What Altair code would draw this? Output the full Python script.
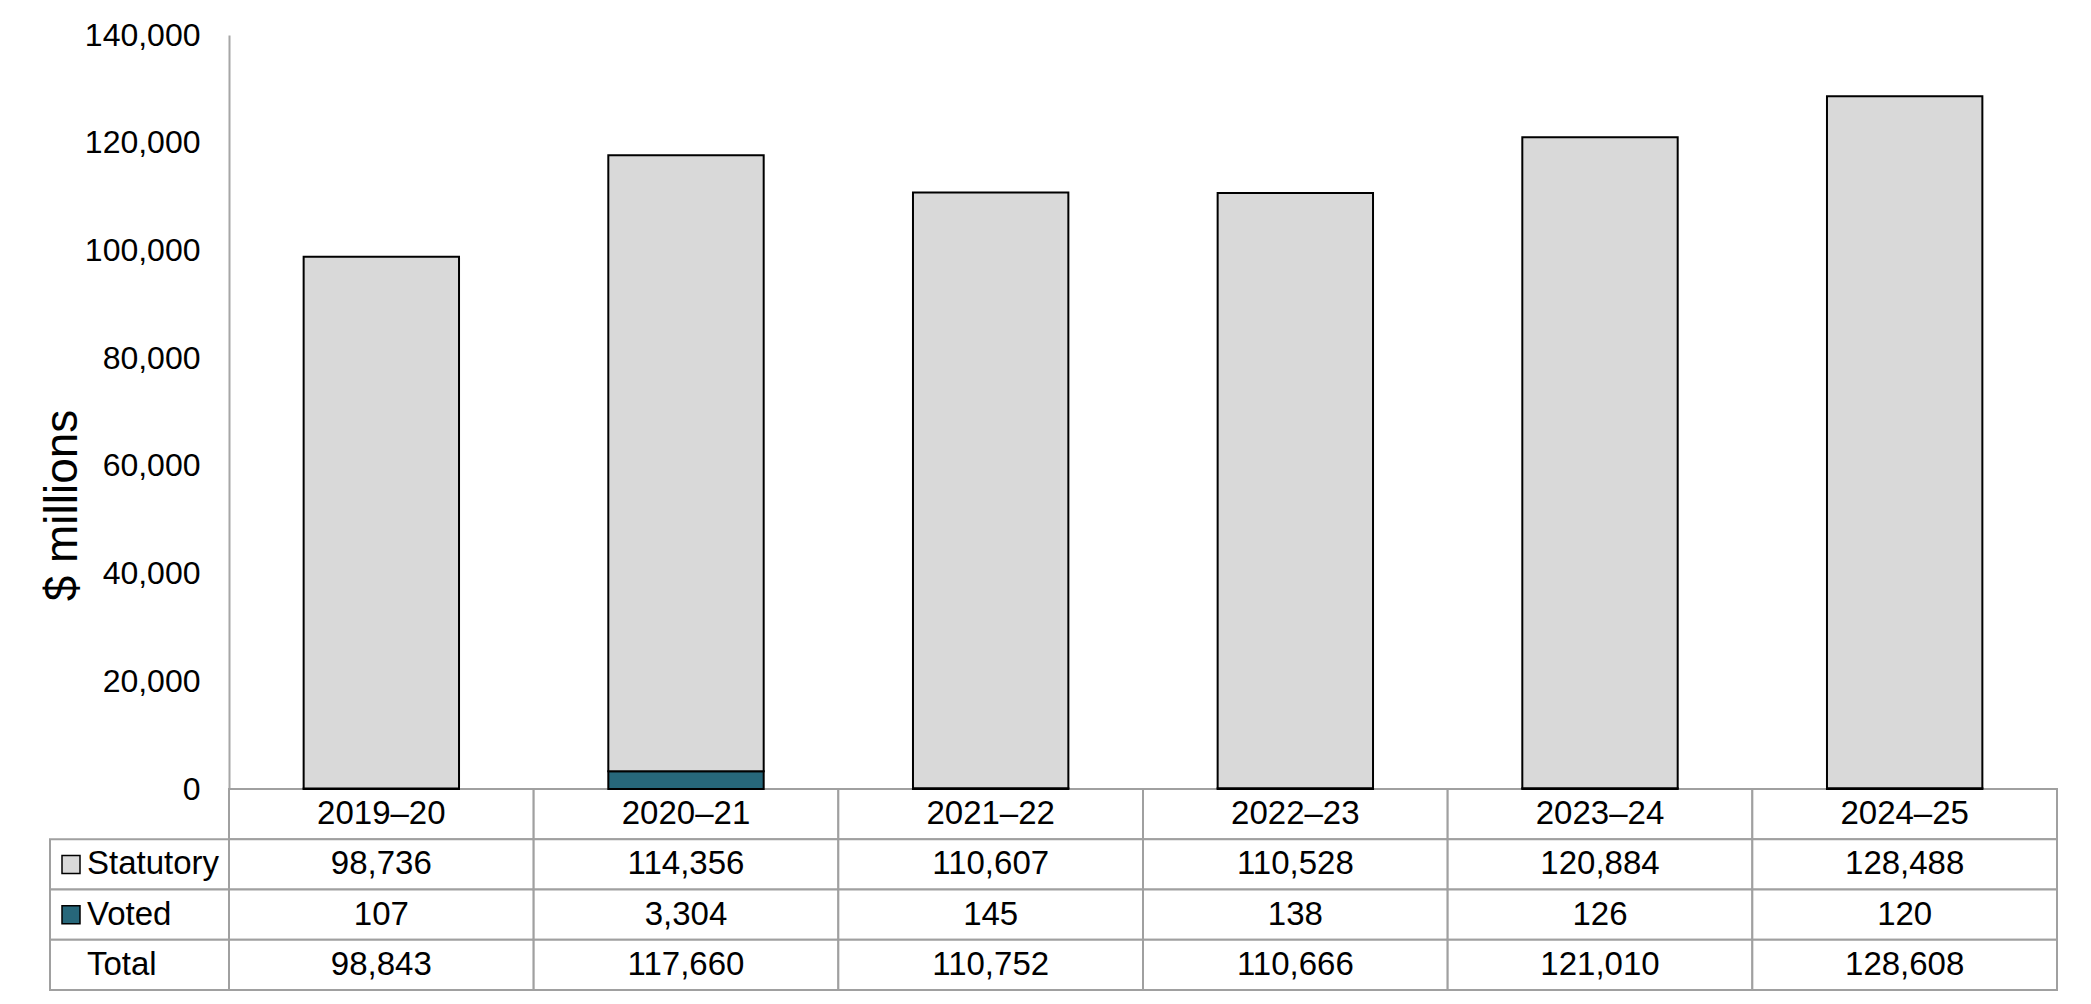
import altair as alt
import pandas as pd

# ---- data ----
YEARS = ["2019–20", "2020–21", "2021–22", "2022–23", "2023–24", "2024–25"]
STATUTORY = [98736, 114356, 110607, 110528, 120884, 128488]
VOTED = [107, 3304, 145, 138, 126, 120]
TOTAL = [98843, 117660, 110752, 110666, 121010, 128608]
SERIES = ["Statutory", "Voted"]          # legend / table row labels
ROWS = ["Year", "Statutory", "Voted", "Total"]
Y_TICKS = [0, 20000, 40000, 60000, 80000, 100000, 120000, 140000]
Y_TITLE = "$ millions"

# ---- styles / layout ----
COLORS = ["#D9D9D9", "#27677A"]
FONT = "Liberation Sans"
W, H = 1828, 754
TABLE_RANGE = [H, H + 201]
BORDER = "#A0A0A0"

# ---- tables built from the lists ----
bar_rows = []
for i, y in enumerate(YEARS):
    bar_rows.append({"year": y, "series": "Voted", "value": VOTED[i], "stack": 0})
    bar_rows.append({"year": y, "series": "Statutory", "value": STATUTORY[i], "stack": 1})
bars_df = pd.DataFrame(bar_rows)

cell_rows = []
for i, y in enumerate(YEARS):
    cell_rows.append({"year": y, "row": "Year", "text": y})
    cell_rows.append({"year": y, "row": "Statutory", "text": f"{STATUTORY[i]:,}"})
    cell_rows.append({"year": y, "row": "Voted", "text": f"{VOTED[i]:,}"})
    cell_rows.append({"year": y, "row": "Total", "text": f"{TOTAL[i]:,}"})
cells_df = pd.DataFrame(cell_rows)

label_df = pd.DataFrame({"row": ["Statutory", "Voted", "Total"],
                         "text": ["Statutory", "Voted", "Total"]})
swatch_df = pd.DataFrame({"row": SERIES, "series": SERIES})

row_scale = alt.Scale(domain=ROWS, range=TABLE_RANGE, paddingInner=0, paddingOuter=0)
col_scale = alt.Scale(domain=YEARS, paddingInner=0, paddingOuter=0)
color_enc = alt.Color("series:N", scale=alt.Scale(domain=SERIES, range=COLORS), legend=None)

bars = alt.Chart(bars_df).mark_bar(stroke="black", strokeWidth=2).encode(
    x=alt.X("year:N", sort=YEARS,
            scale=alt.Scale(domain=YEARS, paddingInner=0.49, paddingOuter=0.245), axis=None),
    y=alt.Y("value:Q", stack="zero",
            scale=alt.Scale(domain=[0, 140000], nice=False),
            axis=alt.Axis(values=Y_TICKS, format=",d", title=Y_TITLE,
                          labelFontSize=32, labelColor="black", labelFont=FONT,
                          labelPadding=29, ticks=False, tickSize=0,
                          titleFontSize=46, titleFontWeight="normal", titleColor="black",
                          titleFont=FONT, titlePadding=8, titleBaseline="alphabetic",
                          titleY=470,
                          domainColor="#A6A6A6", domainWidth=2,
                          gridColor="#D9D9D9", gridWidth=2)),
    color=color_enc,
    order=alt.Order("stack:Q", sort="ascending"),
)

cells = alt.Chart(cells_df).mark_rect(fill="white", stroke=BORDER, strokeWidth=2).encode(
    x=alt.X("year:N", scale=col_scale, axis=None),
    y=alt.Y("row:N", scale=row_scale, axis=None),
)

cell_text = alt.Chart(cells_df).mark_text(fontSize=33, font=FONT, color="black",
                                           baseline="middle").encode(
    x=alt.X("year:N", scale=col_scale, axis=None),
    y=alt.Y("row:N", scale=row_scale, axis=None),
    text="text:N",
)

label_cells = alt.Chart(label_df).mark_rect(fill="white", stroke=BORDER, strokeWidth=2).encode(
    x=alt.value(-179), x2=alt.value(0),
    y=alt.Y("row:N", scale=row_scale, axis=None),
)

label_text = alt.Chart(label_df).mark_text(
    fontSize=33, font=FONT, color="black", align="left", baseline="middle"
).encode(
    x=alt.value(-142),
    y=alt.Y("row:N", scale=row_scale, axis=None),
    text="text:N",
)

swatches = alt.Chart(swatch_df).mark_square(size=324, filled=True, opacity=1,
                                             stroke="black", strokeWidth=1.5).encode(
    x=alt.value(-158),
    y=alt.Y("row:N", scale=row_scale, axis=None),
    color=color_enc,
)

chart = alt.layer(
    cells, label_cells, bars, cell_text, label_text, swatches
).resolve_scale(
    x="independent", y="independent"
).properties(
    width=W, height=H,
    autosize=alt.AutoSizeParams(type="none"),
    padding={"left": 221, "top": 27, "right": 20, "bottom": 212},
).configure_view(strokeWidth=0)

chart.save("out.html", embed_options={"renderer": "svg", "actions": False})
